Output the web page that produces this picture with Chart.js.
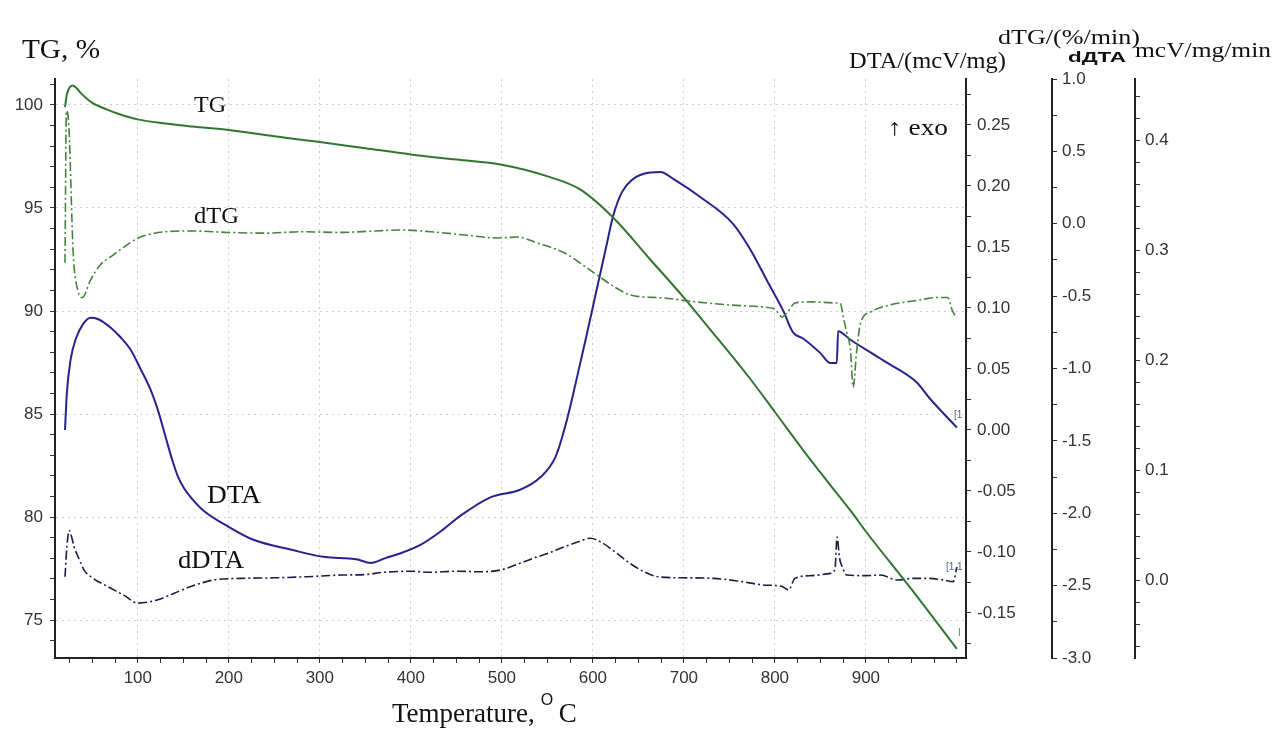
<!DOCTYPE html>
<html>
<head>
<meta charset="utf-8">
<script src="https://cdn.jsdelivr.net/npm/chart.js@4.4.0/dist/chart.umd.min.js"></script>
<style>
  html, body { margin: 0; padding: 0; background: #fff; }
  #wrap { width: 1286px; height: 731px; }
</style>
</head>
<body>
<div id="wrap"><canvas id="thermoChart" width="1286" height="731"></canvas></div>
<script>
// TG curve (left axis, %)
var tgTemp = [20, 22, 25, 28, 32, 38, 50, 65, 80, 100, 130, 160, 200, 250, 300, 350, 400, 450, 500, 553, 586, 623, 663, 699, 729, 773, 800, 831, 860, 885, 900, 950, 1000];
var tgValues = [99.9, 100.5, 100.85, 100.95, 100.85, 100.55, 100.1, 99.8, 99.55, 99.3, 99.1, 98.95, 98.78, 98.48, 98.2, 97.9, 97.6, 97.35, 97.1, 96.5, 95.9, 94.5, 92.5, 90.7, 89.1, 86.7, 85.1, 83.25, 81.6, 80.2, 79.3, 76.5, 73.6];

// dTG curve (%/min)
var dtgTemp = [20, 21.5, 24, 29, 34, 39, 48, 58, 72, 85, 100, 115, 130, 160, 200, 240, 280, 320, 360, 389, 422, 459, 495, 517, 539, 569, 597, 624, 641, 678, 714, 750, 787, 800, 808, 815, 822, 841, 866, 872, 875, 879, 883, 886, 890, 894, 905, 927, 956, 978, 990, 995, 1000];
var dtgValues = [-0.27, 0.78, 0.7, -0.2, -0.46, -0.51, -0.39, -0.29, -0.22, -0.16, -0.1, -0.07, -0.055, -0.05, -0.06, -0.065, -0.055, -0.06, -0.05, -0.043, -0.055, -0.078, -0.098, -0.092, -0.133, -0.202, -0.32, -0.437, -0.492, -0.513, -0.54, -0.561, -0.575, -0.59, -0.644, -0.6, -0.547, -0.54, -0.547, -0.55, -0.64, -0.75, -0.87, -1.13, -0.87, -0.69, -0.61, -0.56, -0.53, -0.51, -0.51, -0.6, -0.65];

// DTA curve (mcV/mg)
var dtaTemp = [20, 22, 26, 32, 40, 48, 56, 70, 81, 92, 103, 114, 123, 131, 138, 144, 151, 158, 172, 199, 227, 268, 304, 323, 340, 356, 372, 389, 411, 433, 455, 488, 520, 542, 559, 570, 581, 592, 603, 614, 622.5, 632, 643, 656, 674, 690, 718, 754, 773, 791, 809, 820, 831, 850, 861, 868, 869.5, 883, 919, 956, 970, 1000];
var dtaValues = [0.0, 0.03, 0.057, 0.075, 0.087, 0.092, 0.091, 0.084, 0.076, 0.066, 0.05, 0.033, 0.014, -0.007, -0.025, -0.038, -0.048, -0.055, -0.066, -0.079, -0.09, -0.098, -0.104, -0.105, -0.106, -0.109, -0.105, -0.101, -0.094, -0.083, -0.07, -0.055, -0.049, -0.039, -0.022, 0.004, 0.038, 0.074, 0.111, 0.148, 0.176, 0.195, 0.205, 0.21, 0.2115, 0.205, 0.191, 0.169, 0.148, 0.123, 0.098, 0.08, 0.075, 0.063, 0.055, 0.055, 0.081, 0.074, 0.057, 0.039, 0.026, 0.002];

// dDTA curve (mcV/mg/min)
var ddtaTemp = [20, 22, 24.6, 27, 30, 35, 41, 50, 67, 85, 100, 122, 140, 158, 183, 213, 250, 286, 323, 350, 370, 400, 420, 450, 476, 498, 516, 535, 550, 568, 585, 597, 610, 622, 641, 655, 671, 700, 732, 760, 787, 800, 808, 815, 822, 840, 861, 866, 868.4, 871, 874, 879, 900, 916, 935, 952, 970, 985, 996, 1000];
var ddtaValues = [0.003, 0.03, 0.045, 0.04, 0.03, 0.02, 0.009, 0.002, -0.006, -0.014, -0.021, -0.018, -0.012, -0.006, 0.0, 0.0015, 0.002, 0.003, 0.0045, 0.005, 0.007, 0.008, 0.007, 0.008, 0.0075, 0.009, 0.014, 0.02, 0.024, 0.03, 0.035, 0.038, 0.034, 0.027, 0.015, 0.008, 0.003, 0.002, 0.0015, -0.001, -0.0045, -0.005, -0.006, -0.009, 0.0015, 0.004, 0.006, 0.01, 0.039, 0.02, 0.012, 0.0045, 0.004, 0.0045, 0.0, 0.0015, 0.0015, 0.0, -0.0015, 0.012];

function pairs(xs, ys) {
  return xs.map(function (x, i) { return { x: x, y: ys[i] }; });
}

function isMultiple(v, step) {
  return Math.abs(Math.round(v / step) * step - v) < 1e-7;
}

var tickFont = { family: 'Liberation Sans', size: 17 };
var tickColor = '#333';

var bgPlugin = {
  id: 'bg',
  beforeDraw: function (chart) {
    var c = chart.ctx;
    c.save();
    c.fillStyle = '#fff';
    c.fillRect(0, 0, chart.width, chart.height);
    c.restore();
  }
};

// draws text stretched to a given width (the scan's lettering is wide)
function fitText(c, text, x, y, w, font) {
  c.save();
  c.font = font;
  var m = c.measureText(text).width;
  c.translate(x, y);
  c.scale(w / m, 1);
  c.fillText(text, 0, 0);
  c.restore();
}

// axis titles and curve labels
var textPlugin = {
  id: 'texts',
  afterDraw: function (chart) {
    var c = chart.ctx;
    c.save();
    c.fillStyle = '#111';
    c.textBaseline = 'alphabetic';
    c.textAlign = 'left';
    fitText(c, 'TG, %', 22, 58, 78, '27px "Liberation Serif"');
    fitText(c, 'DTA/(mcV/mg)', 849, 68, 157, '23px "Liberation Serif"');
    fitText(c, 'dTG/(%/min)', 998, 44, 142, '21px "Liberation Serif"');
    fitText(c, 'mcV/mg/min', 1135, 57, 136, '20px "Liberation Serif"');
    fitText(c, 'dДТА', 1068, 62, 58, 'bold 14px "Liberation Sans"');
    fitText(c, '\u2191 exo', 888, 135, 60, '23px "Liberation Serif"');
    fitText(c, 'TG', 194, 112, 32, '23px "Liberation Serif"');
    fitText(c, 'dTG', 194, 223, 45, '23px "Liberation Serif"');
    fitText(c, 'DTA', 207, 503, 54, '25px "Liberation Serif"');
    fitText(c, 'dDTA', 178, 568, 66, '25px "Liberation Serif"');
    // x axis title
    c.font = '27px "Liberation Serif"';
    c.fillText('Temperature,', 392, 722);
    var w = c.measureText('Temperature,').width;
    c.font = '16px "Liberation Sans"';
    c.fillText('O', 392 + w + 6, 705);
    c.font = '27px "Liberation Serif"';
    c.fillText('C', 392 + w + 24, 722);
    // small end markers
    c.font = '10px "Liberation Sans"';
    c.fillStyle = '#55608a';
    c.fillText('[1', 954, 418);
    c.fillText('[1.1', 946, 570);
    c.fillStyle = '#5a8a5a';
    c.fillText('I', 958, 636);
    c.restore();
  }
};

var ctx = document.getElementById('thermoChart').getContext('2d');
var thermoChart = new Chart(ctx, {
  type: 'line',
  data: {
    datasets: [{
      label: 'TG',
      data: pairs(tgTemp, tgValues),
      yAxisID: 'y',
      borderColor: 'rgb(48,118,48)',
      borderWidth: 2,
      pointRadius: 0,
      cubicInterpolationMode: 'monotone'
    }, {
      label: 'dTG',
      data: pairs(dtgTemp, dtgValues),
      yAxisID: 'yDTG',
      borderColor: 'rgb(70,130,62)',
      borderWidth: 1.6,
      borderDash: [9, 3, 2, 3],
      pointRadius: 0,
      cubicInterpolationMode: 'monotone'
    }, {
      label: 'DTA',
      data: pairs(dtaTemp, dtaValues),
      yAxisID: 'yDTA',
      borderColor: 'rgb(36,36,140)',
      borderWidth: 2,
      pointRadius: 0,
      cubicInterpolationMode: 'monotone'
    }, {
      label: 'dDTA',
      data: pairs(ddtaTemp, ddtaValues),
      yAxisID: 'yDDTA',
      borderColor: 'rgb(28,28,70)',
      borderWidth: 1.6,
      borderDash: [9, 3, 2, 3],
      pointRadius: 0,
      cubicInterpolationMode: 'monotone'
    }]
  },
  options: {
    responsive: false,
    animation: false,
    layout: { padding: { top: 79, left: 0, right: 0, bottom: 0 } },
    plugins: { legend: { display: false }, tooltip: { enabled: false } },
    scales: {
      x: {
        type: 'linear',
        position: 'bottom',
        min: 9,
        max: 1010,
        ticks: {
          stepSize: 25,
          autoSkip: false,
          includeBounds: false,
          maxRotation: 0,
          padding: 5,
          color: tickColor,
          font: tickFont,
          callback: function (v) { return (isMultiple(v, 100) && v < 1000) ? String(v) : ''; }
        },
        grid: {
          color: function (c) { return (c.tick && isMultiple(c.tick.value, 100) && c.tick.value < 1000) ? '#cfcfcf' : 'rgba(0,0,0,0)'; },
          tickColor: '#333',
          tickLength: 5,
          lineWidth: 1
        },
        border: { color: '#222', width: 2, dash: [2, 4] },
        afterFit: function (s) { s.height = 73; }
      },
      y: {
        position: 'left',
        min: 73.16,
        max: 101.26,
        ticks: {
          stepSize: 1,
          autoSkip: false,
          includeBounds: false,
          padding: 7,
          color: tickColor,
          font: tickFont,
          callback: function (v) { return isMultiple(v, 5) ? String(v) : ''; }
        },
        grid: {
          color: function (c) { return (c.tick && isMultiple(c.tick.value, 5)) ? '#cfcfcf' : 'rgba(0,0,0,0)'; },
          tickColor: '#333',
          tickLength: 5
        },
        border: { color: '#222', width: 2, dash: [2, 4] },
        afterFit: function (s) { s.width = 55; }
      },
      yDTA: {
        position: 'right',
        weight: 1,
        min: -0.1869,
        max: 0.2877,
        ticks: {
          stepSize: 0.025,
          autoSkip: false,
          includeBounds: false,
          padding: 6,
          color: tickColor,
          font: tickFont,
          callback: function (v) {
            if (!isMultiple(v, 0.05)) return '';
            return Math.abs(v) < 1e-9 ? '0.00' : v.toFixed(2);
          }
        },
        grid: { drawOnChartArea: false, tickColor: '#333', tickLength: 5 },
        border: { color: '#222', width: 2 },
        afterFit: function (s) { s.width = 86; }
      },
      yDTG: {
        position: 'right',
        weight: 2,
        min: -3,
        max: 1,
        ticks: {
          stepSize: 0.25,
          autoSkip: false,
          includeBounds: false,
          padding: 5,
          color: tickColor,
          font: tickFont,
          callback: function (v) {
            if (!isMultiple(v, 0.5)) return '';
            return Math.abs(v) < 1e-9 ? '0.0' : v.toFixed(1);
          }
        },
        grid: { drawOnChartArea: false, tickColor: '#333', tickLength: 5 },
        border: { color: '#222', width: 2 },
        afterFit: function (s) { s.width = 83; }
      },
      yDDTA: {
        position: 'right',
        weight: 3,
        min: -0.0709,
        max: 0.4555,
        ticks: {
          stepSize: 0.02,
          autoSkip: false,
          includeBounds: false,
          padding: 5,
          color: tickColor,
          font: tickFont,
          callback: function (v) {
            if (!isMultiple(v, 0.1)) return '';
            return Math.abs(v) < 1e-9 ? '0.0' : v.toFixed(1);
          }
        },
        grid: { drawOnChartArea: false, tickColor: '#333', tickLength: 5 },
        border: { color: '#222', width: 2 },
        afterFit: function (s) { s.width = 151; }
      }
    }
  },
  plugins: [bgPlugin, textPlugin]
});
</script>
</body>
</html>
